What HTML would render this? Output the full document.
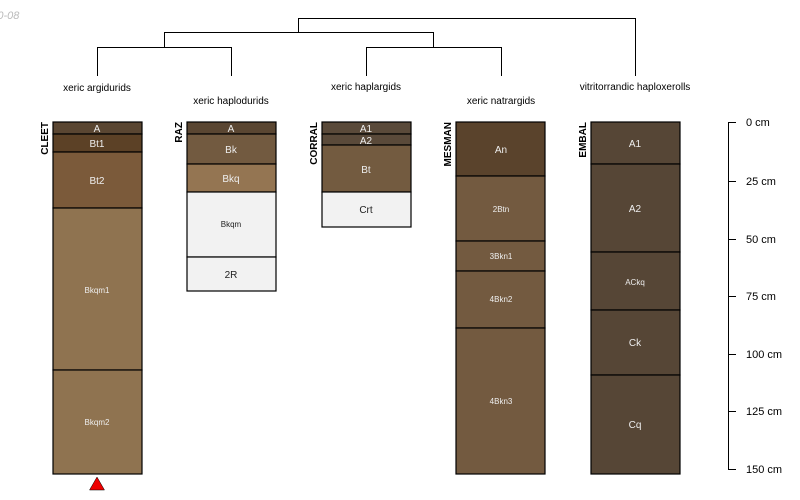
<!DOCTYPE html>
<html><head><meta charset="utf-8"><style>
html,body{margin:0;padding:0;background:#fff;}
svg{display:block;font-family:"Liberation Sans",sans-serif;}
</style></head><body>
<svg width="800" height="500" viewBox="0 0 800 500" xmlns="http://www.w3.org/2000/svg">
<text x="-21" y="19" font-size="11" font-style="italic" fill="#bbb">2020-08</text>
<g stroke="#000" stroke-width="1" fill="none">
<path d="M298.5 32V18.5H635.5V76"/>
<path d="M164.5 47V32.5H433.5V47"/>
<path d="M97.5 76V47.5H231.5V76"/>
<path d="M366.5 76V47.5H501.5V76"/>
</g>
<g font-size="10" fill="#000" text-anchor="middle">
<text x="97" y="91">xeric argidurids</text>
<text x="231" y="104">xeric haplodurids</text>
<text x="366" y="90">xeric haplargids</text>
<text x="501" y="104">xeric natrargids</text>
<text x="635" y="90">vitritorrandic haploxerolls</text>
</g>
<g stroke="#000" stroke-width="1.2">
<rect x="53" y="122" width="89" height="12" fill="#5a4632"/>
<rect x="53" y="134" width="89" height="18" fill="#5c4126"/>
<rect x="53" y="152" width="89" height="56" fill="#7b5a3a"/>
<rect x="53" y="208" width="89" height="162" fill="#8f7350"/>
<rect x="53" y="370" width="89" height="104" fill="#8f7350"/>
<rect x="187" y="122" width="89" height="12" fill="#5a4632"/>
<rect x="187" y="134" width="89" height="30" fill="#725a40"/>
<rect x="187" y="164" width="89" height="28" fill="#947552"/>
<rect x="187" y="192" width="89" height="65" fill="#f2f2f2"/>
<rect x="187" y="257" width="89" height="34" fill="#f2f2f2"/>
<rect x="322" y="122" width="89" height="12" fill="#5a4a3a"/>
<rect x="322" y="134" width="89" height="11" fill="#5a4a3a"/>
<rect x="322" y="145" width="89" height="47" fill="#735b40"/>
<rect x="322" y="192" width="89" height="35" fill="#f2f2f2"/>
<rect x="456" y="122" width="89" height="54" fill="#5a432c"/>
<rect x="456" y="176" width="89" height="65" fill="#735a40"/>
<rect x="456" y="241" width="89" height="30" fill="#735a40"/>
<rect x="456" y="271" width="89" height="57" fill="#735a40"/>
<rect x="456" y="328" width="89" height="146" fill="#735a40"/>
<rect x="591" y="122" width="89" height="42" fill="#564636"/>
<rect x="591" y="164" width="89" height="88" fill="#564636"/>
<rect x="591" y="252" width="89" height="58" fill="#564636"/>
<rect x="591" y="310" width="89" height="65" fill="#564636"/>
<rect x="591" y="375" width="89" height="99" fill="#564636"/>
</g>
<g text-anchor="middle" fill="#eee" font-size="10">
<text x="97" y="132">A</text><text x="97" y="147">Bt1</text><text x="97" y="184">Bt2</text>
<text x="97" y="293" font-size="8">Bkqm1</text><text x="97" y="425" font-size="8">Bkqm2</text>
<text x="231" y="132">A</text><text x="231" y="153">Bk</text><text x="231" y="182">Bkq</text>
<text x="231" y="227" font-size="8" fill="#222">Bkqm</text><text x="231" y="278" fill="#222">2R</text>
<text x="366" y="132">A1</text><text x="366" y="144">A2</text><text x="366" y="173">Bt</text>
<text x="366" y="213" fill="#222">Crt</text>
<text x="501" y="153">An</text><text x="501" y="212" font-size="8">2Btn</text>
<text x="501" y="259" font-size="8">3Bkn1</text><text x="501" y="302" font-size="8">4Bkn2</text>
<text x="501" y="404" font-size="8">4Bkn3</text>
<text x="635" y="147">A1</text><text x="635" y="212">A2</text><text x="635" y="285" font-size="8">ACkq</text>
<text x="635" y="346">Ck</text><text x="635" y="428">Cq</text>
</g>
<g font-size="10" font-weight="bold" fill="#000" text-anchor="end">
<text transform="translate(48,122) rotate(-90)">CLEET</text>
<text transform="translate(182,122) rotate(-90)">RAZ</text>
<text transform="translate(317,122) rotate(-90)">CORRAL</text>
<text transform="translate(451,122) rotate(-90)">MESMAN</text>
<text transform="translate(586,122) rotate(-90)">EMBAL</text>
</g>
<polygon points="97,477 89.5,490 104.5,490" fill="#e00" stroke="#000" stroke-width="0.5"/>
<g stroke="#000" stroke-width="1">
<path d="M728.5 122.5V469.5"/>
<path d="M728 122.5h8M728 181.5h8M728 239.5h8M728 296.5h8M728 354.5h8M728 411.5h8M728 469.5h8"/>
</g>
<g font-size="11" fill="#000">
<text x="746" y="126">0 cm</text><text x="746" y="185">25 cm</text><text x="746" y="243">50 cm</text>
<text x="746" y="300">75 cm</text><text x="746" y="358">100 cm</text><text x="746" y="415">125 cm</text>
<text x="746" y="473">150 cm</text>
</g>
</svg>
</body></html>
